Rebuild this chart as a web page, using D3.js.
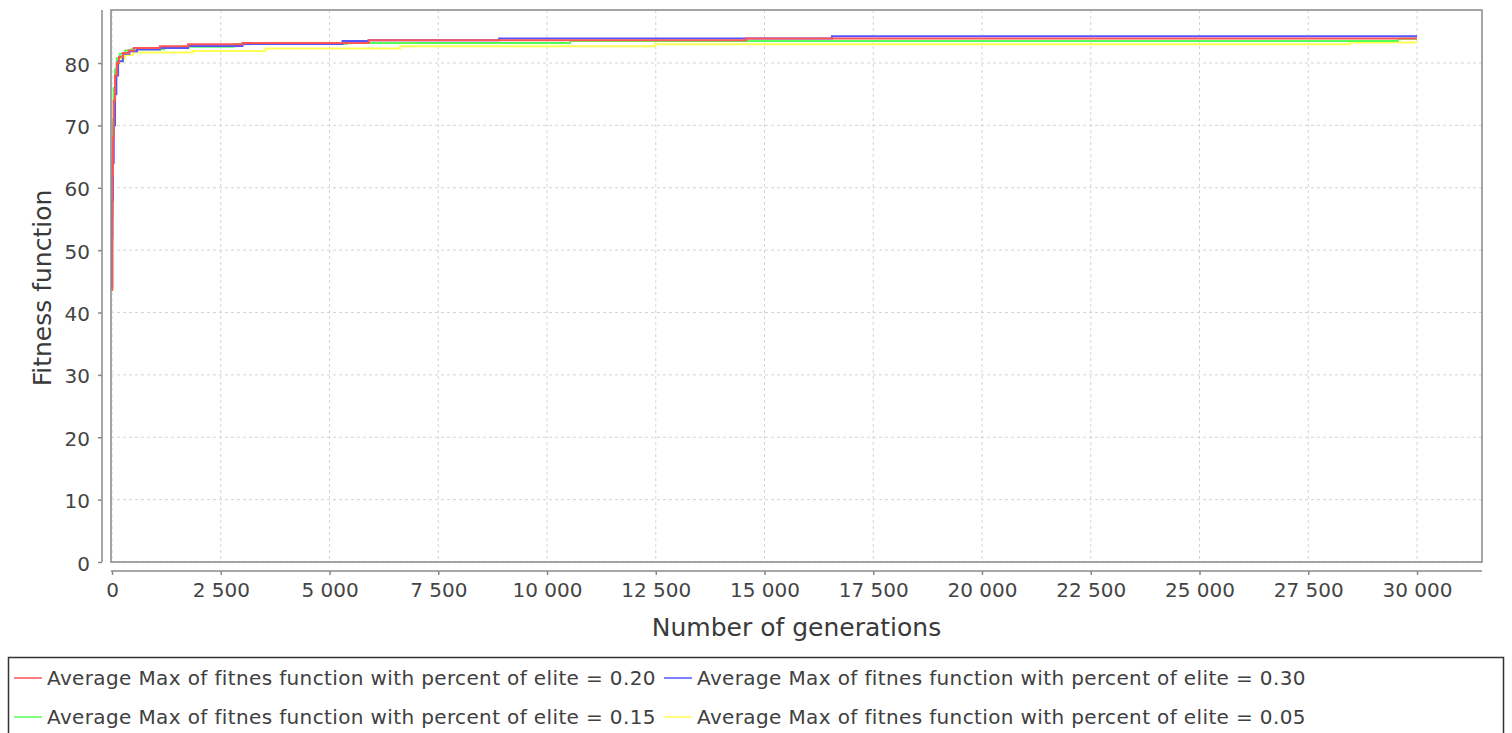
<!DOCTYPE html>
<meta charset="utf-8">
<style>
  body { margin: 0; background: #fff; }
  svg { display: block; font-family: "DejaVu Sans", sans-serif; }
  .tick-label { font-size: 20px; fill: #444; }
  .axis-title { font-size: 25px; fill: #3a3a3a; }
  .legend-text { font-size: 20px; fill: #404040; letter-spacing: 0.37px; }
  .grid line { stroke: #d4d4d4; stroke-dasharray: 3,3; stroke-width: 1; }
  .series { fill: none; stroke-width: 2; }
</style>
<body>
<svg id="chart" width="1512" height="733"></svg>
<script src="https://d3js.org/d3.v7.min.js"></script>
<script>
// [generation, average max fitness]
const elite020 = [[0,43.6],[5,55],[10,62],[20,68],[40,74],[70,78],[110,80],[160,81],[250,81.6],[380,82],[500,82.4],[1100,82.7],[1750,83.0],[3000,83.22],[5900,83.65],[14580,83.93],[30000,83.93]];
const elite030 = [[0,44],[5,52],[10,58],[20,64],[40,70],[70,75],[100,78],[140,80.3],[250,81.5],[400,81.9],[575,82.16],[1100,82.42],[1750,82.74],[3000,83.06],[5300,83.54],[5900,83.65],[8900,83.93],[16550,84.29],[30000,84.29]];
const elite015 = [[0,44],[5,58],[10,65],[20,71],[40,76],[70,79],[110,80.8],[180,81.5],[300,82],[450,82.2],[1200,82.6],[2800,83.06],[5400,83.22],[10530,83.54],[29560,83.9],[30000,83.9]];
const elite005 = [[0,44],[5,57],[10,64],[20,70],[40,75],[70,78],[110,79.8],[180,80.7],[300,81.3],[480,81.68],[1860,81.94],[3520,82.32],[6620,82.69],[12480,83.01],[28460,83.29],[30000,83.29]];

const seriesNames = [
  "Average Max of fitnes function with percent of elite = 0.20",
  "Average Max of fitnes function with percent of elite = 0.30",
  "Average Max of fitnes function with percent of elite = 0.15",
  "Average Max of fitnes function with percent of elite = 0.05"
];
const seriesData = [elite020, elite030, elite015, elite005];
const seriesColors = ["#ff5555", "#5555ff", "#55ff55", "#ffff55"];

const xTicks = d3.range(0, 30001, 2500);
const yTicks = d3.range(0, 81, 10);
const xRange = [-23, 31494];
const yRange = [0, 88.5];

const plot = { left: 111, right: 1482, top: 10, bottom: 562 };

const svg = d3.select("#chart");

const x = d3.scaleLinear().domain(xRange).range([plot.left, plot.right]);
const y = d3.scaleLinear().domain(yRange).range([plot.bottom, plot.top]);

const fmt = d3.formatLocale({ decimal: ".", thousands: " ", grouping: [3], currency: ["", ""] }).format(",");

// grid
svg.append("g").attr("class", "grid")
  .selectAll("line").data(xTicks).join("line")
  .attr("x1", d => x(d)).attr("x2", d => x(d))
  .attr("y1", plot.top).attr("y2", plot.bottom);
svg.append("g").attr("class", "grid")
  .selectAll("line").data(yTicks).join("line")
  .attr("x1", plot.left).attr("x2", plot.right)
  .attr("y1", d => y(d)).attr("y2", d => y(d));

// series, last series drawn first so the first one sits on top
const line = d3.line()
  .x(d => x(d[0]))
  .y(d => y(d[1]))
  .curve(d3.curveStepAfter);

const order = d3.range(seriesData.length).reverse();
svg.append("g")
  .selectAll("path").data(order).join("path")
  .attr("class", "series")
  .attr("stroke", i => seriesColors[i])
  .attr("d", i => line(seriesData[i]));

// plot outline
svg.append("rect")
  .attr("x", plot.left).attr("y", plot.top)
  .attr("width", plot.right - plot.left).attr("height", plot.bottom - plot.top)
  .attr("fill", "none").attr("stroke", "#888").attr("stroke-width", 1.5);

// x axis (offset below plot)
const xAxisY = 571;
const xAxis = d3.axisBottom(x).tickValues(xTicks).tickSize(4).tickSizeOuter(0).tickPadding(8).tickFormat(fmt);
const gx = svg.append("g").attr("transform", `translate(0,${xAxisY})`).call(xAxis);
gx.select(".domain").attr("stroke", "#888").attr("stroke-width", 1.5)
  .attr("d", `M${plot.left},0H${plot.right}`);
gx.selectAll(".tick line").attr("stroke", "#888").attr("stroke-width", 1.5);
gx.selectAll(".tick text").attr("class", "tick-label");
gx.attr("font-size", null).attr("font-family", null);

// y axis (offset left of plot)
const yAxisX = 102;
const yAxis = d3.axisLeft(y).tickValues(yTicks).tickSize(4).tickSizeOuter(0).tickPadding(8);
const gy = svg.append("g").attr("transform", `translate(${yAxisX},0)`).call(yAxis);
gy.select(".domain").attr("stroke", "#888").attr("stroke-width", 1.5)
  .attr("d", `M0,${plot.top}V${plot.bottom}`);
gy.selectAll(".tick line").attr("stroke", "#888").attr("stroke-width", 1.5);
gy.selectAll(".tick text").attr("class", "tick-label").attr("dy", "0.4em");
gy.attr("font-size", null).attr("font-family", null);

// axis titles
svg.append("text").attr("class", "axis-title")
  .attr("x", (plot.left + plot.right) / 2).attr("y", 636)
  .attr("text-anchor", "middle")
  .text("Number of generations");
svg.append("text").attr("class", "axis-title")
  .attr("transform", `translate(51,${(plot.top + plot.bottom) / 2 + 2}) rotate(-90)`)
  .attr("text-anchor", "middle")
  .text("Fitness function");

// legend
svg.append("rect")
  .attr("x", 8.5).attr("y", 657.5).attr("width", 1495).attr("height", 100)
  .attr("fill", "#fff").attr("stroke", "#333").attr("stroke-width", 1.5);

const legendPos = [[14, 678], [664, 678], [14, 717], [664, 717]];
const items = svg.append("g").selectAll("g").data(seriesNames).join("g")
  .attr("transform", (d, i) => `translate(${legendPos[i][0]},${legendPos[i][1]})`);
items.append("line")
  .attr("x1", 0).attr("x2", 28).attr("y1", 0).attr("y2", 0)
  .attr("stroke", (d, i) => seriesColors[i]).attr("stroke-width", 1.5);
items.append("text").attr("class", "legend-text")
  .attr("x", 33).attr("y", 0).attr("dy", "0.36em")
  .text(d => d);
</script>
</body>
</html>
